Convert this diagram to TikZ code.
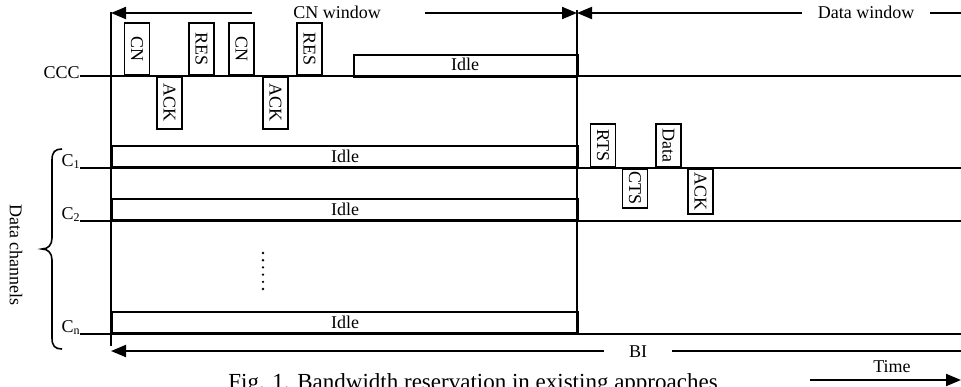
\documentclass[tikz,border=0pt]{standalone}
\usepackage{fontspec}
\setmainfont{Liberation Serif}
\usetikzlibrary{arrows.meta}
\begin{document}
\begin{tikzpicture}[x=0.5pt,y=-0.5pt,
  every node/.style={font=\fontsize{9}{10}\selectfont, inner sep=0pt},
  ln/.style={line width=1pt},
  tip/.style={-{Triangle[length=7.5pt,width=6pt]}},
  pkt/.style={draw, line width=0.8pt, rotate=-90, minimum height=12.5pt, fill=white},
  idlebox/.style={draw, line width=1pt, minimum height=10.5pt}]
\useasboundingbox (0,0) rectangle (961,386);

% coordinates
\coordinate (L0) at (111,12);
\coordinate (L1) at (111,346);
\coordinate (R0) at (577,10);
\coordinate (R1) at (577,333);

% verticals
\draw[ln] (L0) -- (L1);
\draw[ln] (R0) -- (R1);

% top window arrows
\node (cnw) at (337,12) {CN window};
\coordinate (cnA) at (252,13);
\coordinate (cnB) at (425,13);
\coordinate (cnL) at (111,13);
\coordinate (cnR) at (577,13);
\draw[ln,tip] (cnA) -- (cnL);
\draw[ln,tip] (cnB) -- (cnR);
\node (dw) at (866,12) {Data window};
\coordinate (dwA) at (802,13);
\coordinate (dwB) at (930,13);
\coordinate (dwE) at (961,13);
\draw[ln,tip] (dwA) -- (cnR);
\draw[ln] (dwB) -- (dwE);

% CCC
\node[anchor=base east] (ccc) at (80,78) {CCC};
\coordinate (cccL) at (80,76);
\coordinate (cccE) at (961,76);
\draw[ln] (cccL) -- (cccE);
\node[idlebox, minimum width=112pt, anchor=south west] (cidle) at (353,76.5) {};
\node at (465,64) {Idle};
\draw[line width=1.5pt] (353,76) -- (577,76);

\node[pkt, minimum width=26pt, anchor=east] (cn1) at (137,76) {CN};
\node[pkt, minimum width=26pt, anchor=west] (ack1) at (169.5,76) {ACK};
\node[pkt, minimum width=26pt, anchor=east] (res1) at (201.5,76) {RES};
\node[pkt, minimum width=26pt, anchor=east] (cn2) at (241.5,76) {CN};
\node[pkt, minimum width=26pt, anchor=west] (ack2) at (275.5,76) {ACK};
\node[pkt, minimum width=26pt, anchor=east] (res2) at (309.5,76) {RES};

% data channels
\foreach \nm/\yb/\lab in {c1/168/{C\textsubscript{1}}, c2/221/{C\textsubscript{2}}, cn/334/{C\textsubscript{n}}}{
  \node[anchor=base east] (\nm lab) at (81,\yb-2) {\lab};
  \coordinate (\nm L) at (80,\yb);
  \coordinate (\nm E) at (961,\yb);
  \draw[ln] (\nm L) -- (\nm E);
  \node[idlebox, minimum width=233pt, anchor=south west, label={[font=\fontsize{9}{10}\selectfont]center:Idle}] (\nm idle) at (111,\yb) {};
}

% packets on C1
\node[pkt, minimum width=21.5pt, anchor=east] (rts) at (603,168) {RTS};
\node[pkt, minimum width=19.5pt, anchor=west] (cts) at (635,168) {CTS};
\node[pkt, minimum width=21.5pt, anchor=east] (data) at (668.5,168) {Data};
\node[pkt, minimum width=22.5pt, anchor=west] (ack3) at (700.5,168) {ACK};

% vertical dots
\coordinate (d0) at (263,253);
\coordinate (d1) at (263,290);
\draw[line width=1.3pt, line cap=round, dash pattern=on 0pt off 3.6pt] (d0) -- (d1);

% brace and label
\draw[line width=0.8pt] (62,149) .. controls (55,149) and (52,152) .. (52,160) -- (52,238)
  .. controls (52,245) and (48,249) .. (42,249)
  .. controls (48,249) and (52,253) .. (52,260) -- (52,338)
  .. controls (52,346) and (55,349) .. (62,349);
\node[rotate=-90] (dch) at (16,255) {Data channels};

% BI
\node (bi) at (638,352) {BI};
\coordinate (biA) at (604,351);
\coordinate (biB) at (672,351);
\coordinate (biL) at (111,351);
\coordinate (biE) at (961,351);
\draw[ln,tip] (biA) -- (biL);
\draw[ln] (biB) -- (biE);

% Time
\node (time) at (892,367) {Time};
\coordinate (tA) at (810,380);
\coordinate (tB) at (961,380);
\draw[ln,tip] (tA) -- (tB);

% caption (clipped at bottom, as in the reference)
\node[anchor=base west, font=\fontsize{11.5}{13}\selectfont] (cap) at (228,389) {Fig. 1. Bandwidth reservation in existing approaches};
\end{tikzpicture}
\end{document}
